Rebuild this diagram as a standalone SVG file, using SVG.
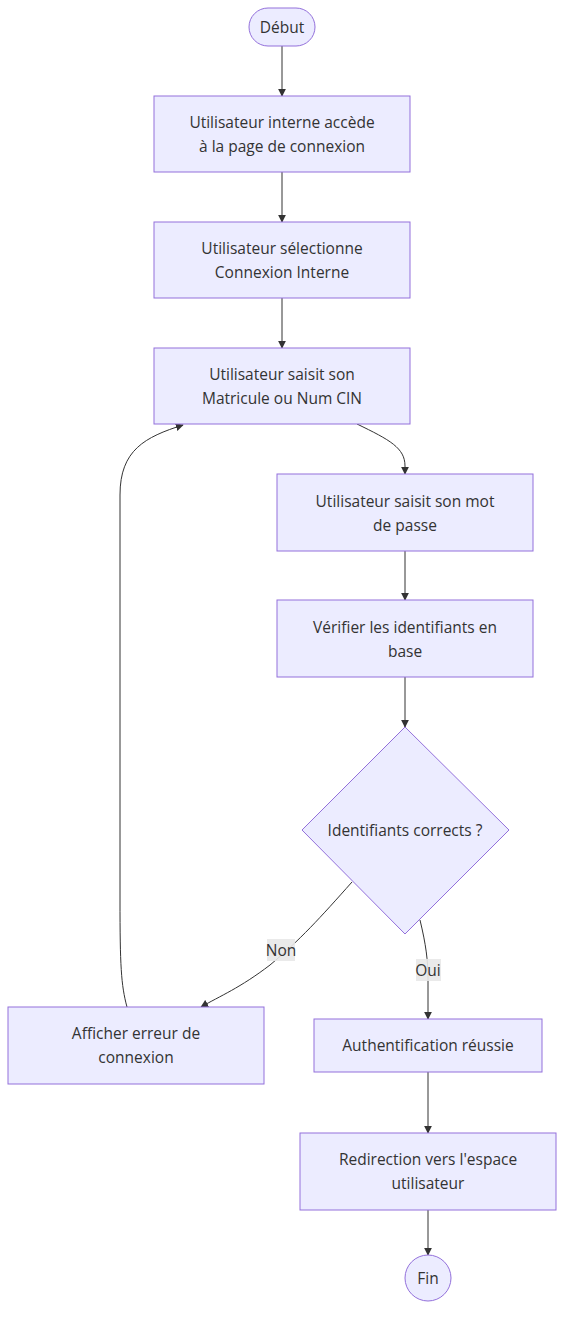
<svg xmlns="http://www.w3.org/2000/svg" width="572" height="1325" viewBox="0 0 572 1325">
<defs>
<style>
.node rect,.node circle,.node polygon{fill:#ECECFF;stroke:#9370DB;stroke-width:1}
text{font-family:"Open Sans","DejaVu Sans",sans-serif;font-size:15.5px;fill:#333;text-anchor:middle;dominant-baseline:central}
.edge{fill:none;stroke:#333;stroke-width:1}
.lbl{fill:#e8e8e8;opacity:0.9}
</style>
<marker id="arr" viewBox="0 0 10 10" refX="9" refY="5" markerWidth="8" markerHeight="8" markerUnits="userSpaceOnUse" orient="auto"><path d="M0,0 L10,5 L0,10 z" fill="#333"/></marker>
</defs>
<rect width="572" height="1325" fill="#fff"/>
<g id="edges">
<path class="edge" d="M282,46 L282,96" marker-end="url(#arr)"/>
<path class="edge" d="M282,172 L282,222" marker-end="url(#arr)"/>
<path class="edge" d="M282,298 L282,348" marker-end="url(#arr)"/>
<path class="edge" d="M357,424 C390,440 405,448 405,466 L405,474" marker-end="url(#arr)"/>
<path class="edge" d="M405,551 L405,600" marker-end="url(#arr)"/>
<path class="edge" d="M405,677 L405,727" marker-end="url(#arr)"/>
<path class="edge" d="M352,882 C320,918 300,940 270,965 C240,988 220,996 201,1007" marker-end="url(#arr)"/>
<path class="edge" d="M420,920 C426,945 428,960 428,980 L428,1019" marker-end="url(#arr)"/>
<path class="edge" d="M428,1072 L428,1133" marker-end="url(#arr)"/>
<path class="edge" d="M428,1210 L428,1255" marker-end="url(#arr)"/>
<path class="edge" d="M127,1007 C121,985 120,965 120,900 L120,495 C120,450 145,437 183,425" marker-end="url(#arr)"/>
<rect class="lbl" x="267" y="939" width="28" height="22"/>
<text x="281" y="950">Non</text>
<rect class="lbl" x="416" y="959" width="25" height="22"/>
<text x="428" y="970">Oui</text>
</g>
<g id="debut" class="node"><rect x="249" y="8" width="66" height="38" rx="19" ry="19"/><text x="282" y="27">Début</text></g>
<g id="acces" class="node"><rect x="154" y="96" width="256" height="76"/><text x="282" y="122">Utilisateur interne accède</text><text x="282" y="146">à la page de connexion</text></g>
<g id="selection" class="node"><rect x="154" y="222" width="256" height="76"/><text x="282" y="248">Utilisateur sélectionne</text><text x="282" y="272">Connexion Interne</text></g>
<g id="matricule" class="node"><rect x="154" y="348" width="256" height="76"/><text x="282" y="374">Utilisateur saisit son</text><text x="282" y="398">Matricule ou Num CIN</text></g>
<g id="motdepasse" class="node"><rect x="277" y="474" width="256" height="77"/><text x="405" y="501">Utilisateur saisit son mot</text><text x="405" y="525">de passe</text></g>
<g id="verifier" class="node"><rect x="277" y="600" width="256" height="77"/><text x="405" y="627">Vérifier les identifiants en</text><text x="405" y="651">base</text></g>
<g id="decision" class="node"><polygon points="405,727 509,830 405,934 302,830"/><text x="405" y="830">Identifiants corrects ?</text></g>
<g id="erreur" class="node"><rect x="8" y="1007" width="256" height="77"/><text x="136" y="1033">Afficher erreur de</text><text x="136" y="1057">connexion</text></g>
<g id="auth" class="node"><rect x="314" y="1019" width="228" height="53"/><text x="428" y="1045">Authentification réussie</text></g>
<g id="redirection" class="node"><rect x="300" y="1133" width="256" height="77"/><text x="428" y="1159">Redirection vers l'espace</text><text x="428" y="1183">utilisateur</text></g>
<g id="fin" class="node"><circle cx="428" cy="1278" r="23"/><text x="428" y="1278">Fin</text></g>
</svg>
